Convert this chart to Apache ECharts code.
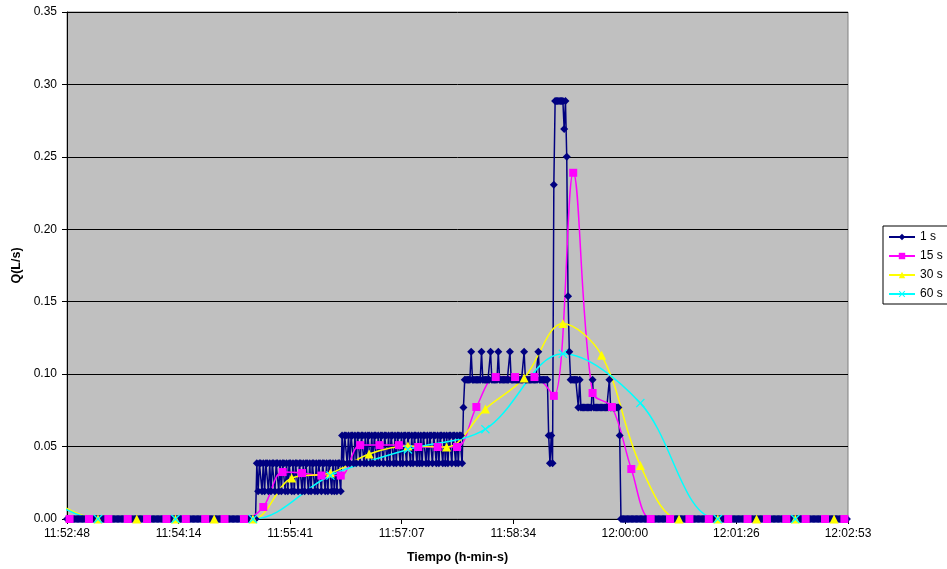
<!DOCTYPE html>
<html>
<head>
<meta charset="utf-8">
<script src="https://cdn.jsdelivr.net/npm/echarts@6/dist/echarts.min.js"></script>
<style>html,body{margin:0;padding:0;background:#fff}#c{width:947px;height:569px}</style>
</head>
<body>
<div id="c"></div>
<script>
// ---------- data ----------
const seriesNames = ['1 s', '15 s', '30 s', '60 s'];
const xTickLabels = ['11:52:48', '11:54:14', '11:55:41', '11:57:07', '11:58:34', '12:00:00', '12:01:26', '12:02:53'];
const xMin = 42768;      // 11:52:48 in seconds since midnight
const xInterval = 86.4;  // seconds between time ticks
const xMax = 43372.8;    // 12:02:53
const yTicks = [0, 0.05, 0.10, 0.15, 0.20, 0.25, 0.30, 0.35];

// 1 s samples (L/s), first sample at start1s
const start1s = 42768, step1s = 1;
const q1s = [
0,0,0,0,0,0,0,0,0,0,0,0,0,0,0,
0,0,0,0,0,0,0,0,0,0,0,0,0,0,0,
0,0,0,0,0,0,0,0,0,0,0,0,0,0,0,
0,0,0,0,0,0,0,0,0,0,0,0,0,0,0,
0,0,0,0,0,0,0,0,0,0,0,0,0,0,0,
0,0,0,0,0,0,0,0,0,0,0,0,0,0,0,
0,0,0,0,0,0,0,0,0,0,0,0,0,0,0,
0,0,0,0,0,0,0,0,0,0,0,0,0,0,0,
0,0,0,0,0,0,0,0,0,0,0,0,0,0,0,
0,0,0,0,0,0,0,0,0,0,0,0,
0.0385,0.0192,0.0385,0.0385,0.0192,0.0385,0.0192,0.0385,0.0385,0.0192,
0.0385,0.0192,0.0385,0.0385,0.0192,0.0385,0.0385,0.0192,0.0385,0.0192,
0.0385,0.0385,0.0192,0.0385,0.0192,0.0385,0.0385,0.0192,0.0385,0.0192,
0.0385,0.0385,0.0192,0.0385,0.0385,0.0192,0.0385,0.0192,0.0385,0.0385,
0.0192,0.0385,0.0192,0.0385,0.0385,0.0192,0.0385,0.0192,0.0385,0.0385,
0.0192,0.0385,0.0385,0.0192,0.0385,0.0192,0.0385,0.0385,0.0192,0.0385,
0.0192,0.0385,0.0192,0.0385,0.0385,0.0192,
0.0577,0.0385,0.0577,0.0577,0.0385,0.0577,0.0385,0.0577,0.0577,0.0385,
0.0577,0.0385,0.0577,0.0577,0.0385,0.0577,0.0577,0.0385,0.0577,0.0385,
0.0577,0.0577,0.0385,0.0577,0.0385,0.0577,0.0577,0.0385,0.0577,0.0385,
0.0577,0.0577,0.0385,0.0577,0.0577,0.0385,0.0577,0.0385,0.0577,0.0577,
0.0385,0.0577,0.0385,0.0577,0.0577,0.0385,0.0577,0.0385,0.0577,0.0577,
0.0385,0.0577,0.0577,0.0385,0.0577,0.0385,0.0577,0.0577,0.0385,0.0577,
0.0385,0.0577,0.0385,0.0577,0.0577,0.0385,0.0577,0.0385,0.0577,0.0577,
0.0385,0.0577,0.0577,0.0385,0.0577,0.0385,0.0577,0.0577,0.0385,0.0577,
0.0385,0.0577,0.0385,0.0577,0.0577,0.0385,0.0577,0.0577,0.0385,0.0577,
0.0385,0.0577,0.0577,0.0385,
0.0769,
0.0962,0.0962,0.0962,0.0962,0.0962,0.1154,0.0962,0.0962,0.0962,0.0962,
0.0962,0.0962,0.0962,0.1154,0.0962,0.0962,0.0962,0.0962,0.0962,0.0962,
0.1154,0.0962,0.0962,0.0962,0.0962,0.0962,0.1154,0.0962,0.0962,0.0962,
0.0962,0.0962,0.0962,0.0962,0.0962,0.1154,0.0962,0.0962,0.0962,0.0962,
0.0962,0.0962,0.0962,0.0962,0.0962,0.0962,0.1154,0.0962,0.0962,0.0962,
0.0962,0.0962,0.0962,0.0962,0.0962,0.0962,0.0962,0.1154,0.0962,0.0962,
0.0962,0.0962,0.0962,0.0962,0.0962,
0.0577,0.0385,0.0577,0.0385,0.2308,
0.2885,0.2885,0.2885,0.2885,0.2885,0.2885,0.2885,
0.2692,0.2885,0.2500,0.1538,0.1154,
0.0962,0.0962,0.0962,0.0962,0.0962,0.0962,
0.0769,0.0962,0.0769,
0.0769,0.0769,0.0769,0.0769,0.0769,0.0769,0.0769,0.0769,0.0962,0.0769,
0.0769,0.0769,0.0769,0.0769,0.0769,0.0769,0.0769,0.0769,0.0769,0.0769,
0.0769,0.0962,0.0769,0.0769,0.0769,0.0769,0.0769,0.0769,0.0769,
0.0577,
0,0,0,0,0,0,0,0,0,0,0,0,0,0,0,0,
0,0,0,0,0,0,0,0,0,0,0,0,0,0,0,0,
0,0,0,0,0,0,0,0,0,0,0,0,0,0,0,0,
0,0,0,0,0,0,0,0,0,0,0,0,0,0,0,0,
0,0,0,0,0,0,0,0,0,0,0,0,0,0,0,0,
0,0,0,0,0,0,0,0,0,0,0,0,0,0,0,0,
0,0,0,0,0,0,0,0,0,0,0,0,0,0,0,0,
0,0,0,0,0,0,0,0,0,0,0,0,0,0,0,0,
0,0,0,0,0,0,0,0,0,0,0,0,0,0,0,0,
0,0,0,0,0,0,0,0,0,0,0,0,0,0,0,0,
0,0,0,0,0,0,0,0,0,0,0,0,0,0,0,0
];

// 15 s averages
const start15s = 42770, step15s = 15;
const q15s = [0,0,0,0,0,0,0,0,0,0, 0.0083,0.0324,0.0317,0.0300,0.0300,
  0.0510,0.0510,0.0510,0.0497,0.0497,0.0497, 0.0773,0.0980,0.0980,0.0980,
  0.0850,0.2390,0.0870,0.0773,0.0345, 0,0,0,0,0,0,0,0,0,0,0];

// 30 s averages (first sample lies before the axis start)
const start30s = 42762, step30s = 30;
const q30s = [0.0100, 0,0,0,0,0, 0.0283,0.0317,0.0449,0.0504,0.0497,
  0.0760,0.0973,0.1350,0.1130,0.0370, 0,0,0,0,0];

// 60 s averages (first sample lies before the axis start)
const start60s = 42732, step60s = 60;
const q60s = [0.0270, 0,0,0, 0.0300,0.0480,0.0620,0.1140,0.0800, 0,0];

// ---------- chart ----------
function pairs(start, step, vals) { return vals.map((v, i) => [start + i * step, v]); }

const FONT = '"Liberation Sans", Arial, sans-serif';
const xShape = 'path://M1,0 L5,4 L9,0 L10,1 L6,5 L10,9 L9,10 L5,6 L1,10 L0,9 L4,5 L0,1 Z';

const chart = echarts.init(document.getElementById('c'), null, { renderer: 'canvas' });
chart.setOption({
  animation: false,
  backgroundColor: '#ffffff',
  textStyle: { fontFamily: FONT },
  grid: {
    left: 67, top: 12, width: 781, height: 507,
    show: true, backgroundColor: '#C0C0C0', borderColor: '#808080', borderWidth: 1
  },
  legend: {
    orient: 'vertical', left: 883, top: 226,
    padding: [4, 6, 3, 5], itemGap: 5, itemWidth: 26, itemHeight: 8,
    backgroundColor: '#ffffff', borderColor: '#000000', borderWidth: 1, borderRadius: 0,
    textStyle: { fontFamily: FONT, fontSize: 12, color: '#000', lineHeight: 14 },
    data: seriesNames
  },
  xAxis: {
    type: 'value', min: xMin, max: xMax, interval: xInterval,
    name: 'Tiempo (h-min-s)', nameLocation: 'middle', nameGap: 32,
    nameTextStyle: { fontFamily: FONT, fontSize: 12.5, fontWeight: 'bold', color: '#000' },
    axisLine: { show: true, onZero: false, lineStyle: { color: '#000', width: 1 } },
    axisTick: { show: true, inside: false, length: 5, lineStyle: { color: '#000' } },
    axisLabel: {
      margin: 9, fontFamily: FONT, fontSize: 12, color: '#000',
      showMinLabel: true, showMaxLabel: true,
      formatter: v => xTickLabels[Math.round((v - xMin) / xInterval)] || ''
    },
    splitLine: { show: false }
  },
  yAxis: {
    type: 'value', min: yTicks[0], max: yTicks[yTicks.length - 1], interval: 0.05,
    name: 'Q(L/s)', nameLocation: 'middle', nameGap: 44, nameRotate: 90,
    nameTextStyle: { fontFamily: FONT, fontSize: 12.5, fontWeight: 'bold', color: '#000' },
    axisLine: { show: true, lineStyle: { color: '#000', width: 1 } },
    axisTick: { show: true, inside: false, length: 5, lineStyle: { color: '#000' } },
    axisLabel: { margin: 10, fontFamily: FONT, fontSize: 12, color: '#000', formatter: v => v.toFixed(2) },
    splitLine: { show: true, lineStyle: { color: '#000', width: 1 } }
  },
  series: [
    {
      name: seriesNames[0], type: 'line', data: pairs(start1s, step1s, q1s),
      symbol: 'diamond', symbolSize: 8, showSymbol: true,
      lineStyle: { color: '#000080', width: 1.5 }, itemStyle: { color: '#000080' },
      clip: true
    },
    {
      name: seriesNames[1], type: 'line', data: pairs(start15s, step15s, q15s), smooth: 0.35,
      symbol: 'rect', symbolSize: 8,
      lineStyle: { color: '#FF00FF', width: 1.5 }, itemStyle: { color: '#FF00FF' },
      clip: true
    },
    {
      name: seriesNames[2], type: 'line', data: pairs(start30s, step30s, q30s), smooth: 0.35,
      symbol: 'triangle', symbolSize: 9,
      lineStyle: { color: '#FFFF00', width: 1.5 }, itemStyle: { color: '#FFFF00' },
      clip: true
    },
    {
      name: seriesNames[3], type: 'line', data: pairs(start60s, step60s, q60s), smooth: 0.35,
      symbol: xShape, symbolSize: 9,
      lineStyle: { color: '#00FFFF', width: 1.5 }, itemStyle: { color: '#00FFFF' },
      clip: true
    }
  ]
});
</script>
</body>
</html>
